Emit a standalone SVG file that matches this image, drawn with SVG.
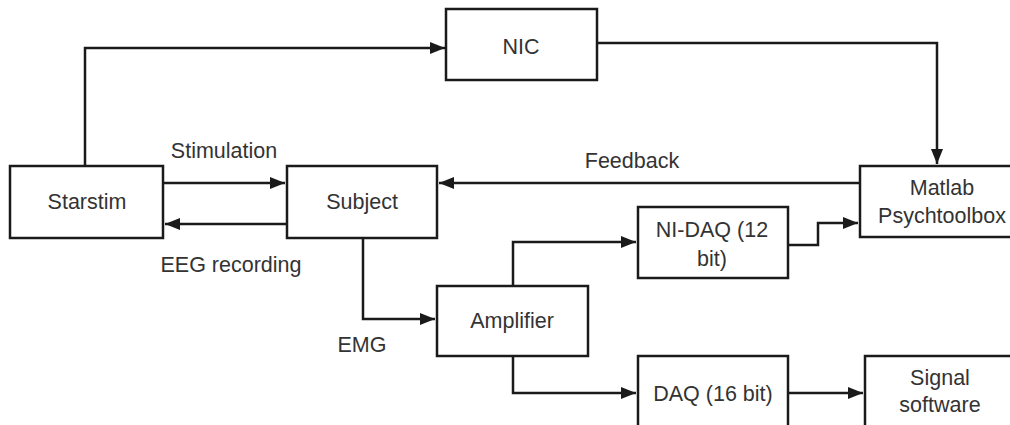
<svg xmlns="http://www.w3.org/2000/svg" width="1010" height="425" viewBox="0 0 1010 425">
<style>
.box{fill:#fff;stroke:#1a1a1a;stroke-width:2.5}
.ln{fill:none;stroke:#1a1a1a;stroke-width:2.5;marker-end:url(#ah)}
.t{font-family:"Liberation Sans",Arial,sans-serif;font-size:21.5px;fill:#333;text-anchor:middle}
</style>
<defs>
<marker id="ah" markerUnits="userSpaceOnUse" markerWidth="16" markerHeight="12" refX="15" refY="6" orient="auto">
<path d="M0,0 L15,6 L0,12 Z" fill="#1a1a1a"/>
</marker>
</defs>
<rect width="1010" height="425" fill="#fff"/>
<g id="connectors">
<path class="ln" d="M85,166 V48 H445"/>
<path class="ln" d="M597,43 H937 V164"/>
<path class="ln" d="M860,183 H439"/>
<path class="ln" d="M163,183 H285"/>
<path class="ln" d="M287,224 H165"/>
<path class="ln" d="M363,238 V319 H435"/>
<path class="ln" d="M513,286 V242 H636"/>
<path class="ln" d="M513,356 V393 H636"/>
<path class="ln" d="M788,245 H818 V223 H858"/>
<path class="ln" d="M788,393 H863"/>
</g>
<g id="node-nic"><rect class="box" x="446" y="9" width="151" height="71"/><text class="t" x="521" y="54">NIC</text></g>
<g id="node-starstim"><rect class="box" x="10" y="166" width="153" height="72"/><text class="t" x="87" y="209">Starstim</text></g>
<g id="node-subject"><rect class="box" x="287" y="166" width="150" height="72"/><text class="t" x="362" y="209">Subject</text></g>
<g id="node-matlab"><rect class="box" x="860" y="166" width="165" height="71"/><text class="t" x="942" y="195">Matlab</text><text class="t" x="942" y="223">Psychtoolbox</text></g>
<g id="node-amplifier"><rect class="box" x="437" y="286" width="151" height="70"/><text class="t" x="512" y="328">Amplifier</text></g>
<g id="node-nidaq"><rect class="box" x="638" y="207" width="150" height="71"/><text class="t" x="712" y="237">NI-DAQ (12</text><text class="t" x="712" y="266">bit)</text></g>
<g id="node-daq"><rect class="box" x="638" y="356" width="150" height="80"/><text class="t" x="713" y="401">DAQ (16 bit)</text></g>
<g id="node-signal"><rect class="box" x="865" y="356" width="160" height="80"/><text class="t" x="940" y="385">Signal</text><text class="t" x="940" y="412">software</text></g>
<g id="labels">
<text class="t" x="224" y="158">Stimulation</text>
<text class="t" x="632" y="168">Feedback</text>
<text class="t" x="231" y="272">EEG recording</text>
<text class="t" x="362" y="352">EMG</text>
</g>
</svg>
